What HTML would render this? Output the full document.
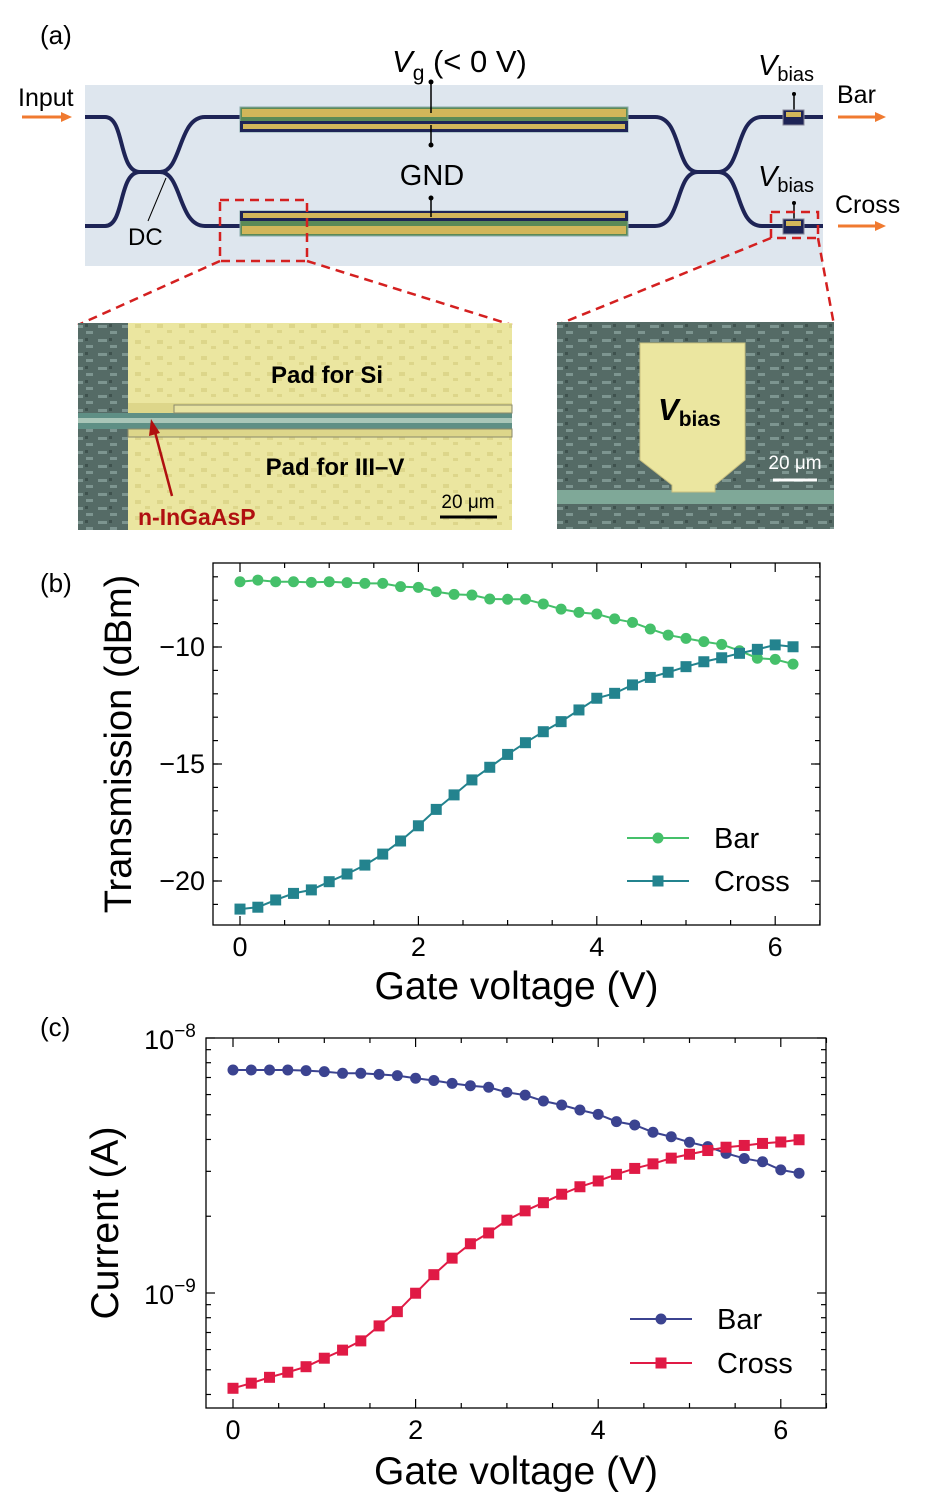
<!DOCTYPE html>
<html><head><meta charset="utf-8">
<style>
html,body{margin:0;padding:0;background:#fff;}
svg{display:block;font-family:"Liberation Sans",Arial,sans-serif;}
</style></head>
<body>
<svg id="fig" width="926" height="1500" viewBox="0 0 926 1500" xmlns="http://www.w3.org/2000/svg">
<defs>
<pattern id="chip" width="24" height="14" patternUnits="userSpaceOnUse">
<rect width="24" height="14" fill="#556b66"/>
<rect x="2" y="3" width="9" height="3" fill="#7d9590"/>
<rect x="14" y="9" width="7" height="3" fill="#7d9590"/>
<rect x="13" y="2" width="3" height="3" fill="#3f524e"/>
</pattern>
<pattern id="pad" width="22" height="16" patternUnits="userSpaceOnUse">
<rect width="22" height="16" fill="#ebe6a0"/>
<rect x="3" y="4" width="6" height="4" fill="#ddd68a"/>
<rect x="13" y="10" width="5" height="3" fill="#ddd68a"/>
</pattern>
</defs>

<!-- Panel (a) -->
<g>
<text x="40" y="44" font-size="26">(a)</text>
<rect x="85" y="85" width="738" height="181" fill="#dee6ee"/>
<g fill="none" stroke="#1e2456" stroke-width="4">
<path d="M85,117 H105 C125,117 118,172 140,172 H160 C182,172 178,117 205,117 H240"/>
<path d="M85,226 H105 C125,226 118,172 140,172 H160 C182,172 178,226 205,226 H240"/>
<path d="M628,117 H655 C682,117 675,172 698,172 H718 C742,172 735,117 762,117 H823"/>
<path d="M628,226 H655 C682,226 675,172 698,172 H718 C742,172 735,226 762,226 H823"/>
</g>
<g>
<rect x="240" y="107" width="388" height="25" fill="#5b8a57" stroke="#8aa"/>
<rect x="242" y="109" width="384" height="8" fill="#d2b65a"/>
<rect x="240" y="121" width="388" height="11" fill="#1e2456"/>
<rect x="243" y="124" width="382" height="5" fill="#d2b65a"/>
</g>
<g>
<rect x="240" y="211" width="388" height="25" fill="#5b8a57" stroke="#8aa"/>
<rect x="240" y="211" width="388" height="10" fill="#1e2456"/>
<rect x="243" y="213" width="382" height="5" fill="#d2b65a"/>
<rect x="242" y="226" width="384" height="8" fill="#d2b65a"/>
</g>
<g stroke="#000" stroke-width="1.5">
<line x1="431" y1="82" x2="431" y2="113"/><line x1="431" y1="125" x2="431" y2="145"/>
<line x1="431" y1="198" x2="431" y2="217"/>
<line x1="794" y1="94" x2="794" y2="113"/><line x1="794" y1="203" x2="794" y2="222"/>
<line x1="166" y1="178" x2="148" y2="221" stroke-width="1"/>
</g>
<g fill="#000"><circle cx="431" cy="82" r="2.5"/><circle cx="431" cy="145" r="2.5"/><circle cx="431" cy="198" r="2.5"/><circle cx="794" cy="94" r="2"/><circle cx="794" cy="203" r="2"/></g>
<rect x="783" y="110" width="21" height="15" fill="#1e2456" stroke="#889"/>
<rect x="786" y="112" width="15" height="5" fill="#d2b65a"/>
<rect x="783" y="219" width="21" height="15" fill="#1e2456" stroke="#889"/>
<rect x="786" y="221" width="15" height="5" fill="#d2b65a"/>
<text x="392" y="72" font-size="31"><tspan font-style="italic">V</tspan><tspan font-size="21" dy="8">g</tspan><tspan dy="-8"> (&lt; 0 V)</tspan></text>
<text x="432" y="185" font-size="29" text-anchor="middle">GND</text>
<text x="128" y="245" font-size="24">DC</text>
<text x="758" y="75" font-size="29"><tspan font-style="italic">V</tspan><tspan font-size="20" dy="6">bias</tspan></text>
<text x="758" y="186" font-size="29"><tspan font-style="italic">V</tspan><tspan font-size="20" dy="6">bias</tspan></text>
<text x="18" y="106" font-size="25">Input</text>
<text x="837" y="103" font-size="25">Bar</text>
<text x="835" y="213" font-size="25">Cross</text>
<g stroke="#f07a30" stroke-width="3" fill="#f07a30">
<line x1="22" y1="117" x2="62" y2="117"/><polygon points="72,117 61,112 61,122" stroke="none"/>
<line x1="838" y1="117" x2="876" y2="117"/><polygon points="886,117 875,112 875,122" stroke="none"/>
<line x1="838" y1="226" x2="876" y2="226"/><polygon points="886,226 875,221 875,231" stroke="none"/>
</g>
<g fill="none" stroke="#d42020" stroke-width="2.5" stroke-dasharray="9,6">
<rect x="220" y="200" width="87" height="61"/>
<rect x="771" y="212" width="47" height="26"/>
<line x1="220" y1="261" x2="78" y2="325"/><line x1="307" y1="261" x2="512" y2="325"/>
<line x1="771" y1="238" x2="557" y2="325"/><line x1="818" y1="238" x2="834" y2="325"/>
</g>
<g>
<rect x="78" y="323" width="434" height="207" fill="url(#pad)"/>
<rect x="78" y="323" width="50" height="207" fill="url(#chip)"/>
<rect x="78" y="413" width="434" height="16" fill="#5f8f85"/>
<rect x="128" y="403" width="384" height="10" fill="#ddd68a"/>
<rect x="174" y="405" width="338" height="8" fill="#e8e3a2" stroke="#8a8a6a"/>
<rect x="78" y="418" width="434" height="5" fill="#a9c6b8"/>
<rect x="128" y="429" width="384" height="8" fill="#ddd68a" stroke="#8a8a6a"/>
<text x="327" y="383" font-size="24" font-weight="bold" text-anchor="middle">Pad for Si</text>
<text x="335" y="475" font-size="24" font-weight="bold" text-anchor="middle">Pad for III–V</text>
<text x="138" y="525" font-size="23" font-weight="bold" fill="#b01010">n-InGaAsP</text>
<line x1="172" y1="496" x2="155" y2="432" stroke="#b01010" stroke-width="2.5"/>
<polygon points="151,419 149,436 160,433" fill="#b01010"/>
<text x="468" y="508" font-size="19" text-anchor="middle">20 μm</text>
<line x1="440" y1="517" x2="497" y2="517" stroke="#000" stroke-width="3"/>
</g>
<g>
<rect x="557" y="322" width="277" height="207" fill="url(#chip)"/>
<rect x="557" y="490" width="277" height="14" fill="#7fa898"/>
<polygon points="640,343 745,343 745,460 715,485 715,492 672,492 672,485 640,460" fill="#ebe6a0" stroke="#c8c080"/>
<text x="658" y="420" font-size="31" font-weight="bold" font-style="italic">V<tspan font-size="21" font-style="normal" dy="6">bias</tspan></text>
<text x="795" y="469" font-size="19" fill="#fff" text-anchor="middle">20 μm</text>
<line x1="773" y1="480" x2="817" y2="480" stroke="#fff" stroke-width="3"/>
</g>
</g>

<g id="chartB"></g>
<g id="chartC"></g>
</svg>

<script>
const NS="http://www.w3.org/2000/svg";
const voltages=[0,0.2,0.4,0.6,0.8,1.0,1.2,1.4,1.6,1.8,2.0,2.2,2.4,2.6,2.8,3.0,3.2,3.4,3.6,3.8,4.0,4.2,4.4,4.6,4.8,5.0,5.2,5.4,5.6,5.8,6.0,6.2];
const transBar=[-7.21,-7.14,-7.21,-7.21,-7.24,-7.21,-7.25,-7.28,-7.28,-7.42,-7.45,-7.64,-7.75,-7.78,-7.95,-7.96,-7.96,-8.16,-8.38,-8.52,-8.59,-8.80,-8.95,-9.23,-9.49,-9.63,-9.77,-9.89,-10.16,-10.48,-10.53,-10.73];
const transCross=[-21.20,-21.12,-20.81,-20.53,-20.38,-20.03,-19.70,-19.32,-18.85,-18.29,-17.64,-16.94,-16.32,-15.68,-15.14,-14.59,-14.09,-13.62,-13.19,-12.69,-12.19,-11.98,-11.62,-11.30,-11.08,-10.84,-10.63,-10.46,-10.27,-10.10,-9.91,-9.99];
const curBar=[7.49,7.49,7.49,7.49,7.45,7.38,7.27,7.27,7.20,7.12,6.95,6.81,6.64,6.50,6.41,6.12,5.97,5.66,5.46,5.22,5.02,4.70,4.56,4.27,4.10,3.90,3.75,3.53,3.37,3.27,3.04,2.95];
const curCross=[0.423,0.443,0.467,0.489,0.514,0.555,0.597,0.649,0.743,0.845,0.998,1.18,1.37,1.56,1.72,1.93,2.10,2.26,2.44,2.61,2.75,2.92,3.08,3.21,3.38,3.50,3.62,3.73,3.79,3.86,3.91,3.99];
const xTicksB=[0,2,4,6];
const yTicksB=[-10,-15,-20];
const xTicksC=[0,2,4,6];
const yTicksC=[1e-8,1e-9];

function mk(tag,attrs,parent){const e=document.createElementNS(NS,tag);for(const k in attrs)e.setAttribute(k,attrs[k]);parent.appendChild(e);return e;}

function drawChart(g,o){
  const {L,R,T,B,xs,ys,xTicks,yTicks,yFmt,minorY,series,ylabel,ylabelX,ylabelSize,xlabelY,legY}=o;
  const frame=mk('rect',{x:L,y:T,width:R-L,height:B-T,fill:'none',stroke:'#000','stroke-width':1.3},g);
  
  
  const tk=mk('g',{stroke:'#000','stroke-width':1.2},g);
  
  
  for(let v=0;v<=6.5;v+=0.5){const x=xs(v);const len=(Math.abs(v%2)<1e-9)?9:5;
    mk('line',{x1:x,x2:x,y1:B,y2:B-len},tk);mk('line',{x1:x,x2:x,y1:T,y2:T+len},tk);}
  minorY.forEach(v=>{const y=ys(v);mk('line',{x1:L,x2:L+5,y1:y,y2:y},tk);mk('line',{x1:R,x2:R-5,y1:y,y2:y},tk);});
  yTicks.forEach(v=>{const y=ys(v);mk('line',{x1:L,x2:L+9,y1:y,y2:y},tk);mk('line',{x1:R,x2:R-9,y1:y,y2:y},tk);});
  xTicks.forEach(v=>{const t=mk('text',{x:xs(v),y:B+31,'font-size':27,'text-anchor':'middle'},g);t.textContent=v;
    
    });
  yTicks.forEach(v=>{const t=yFmt(v,ys(v));
    
    });
  const xl=mk('text',{x:(L+R)/2,y:xlabelY,'font-size':39,'text-anchor':'middle'},g);xl.textContent='Gate voltage (V)';
  
  
  const yl=mk('text',{x:0,y:0,'font-size':ylabelSize,'text-anchor':'middle',transform:`translate(${ylabelX},${(T+B)/2}) rotate(-90)`},g);yl.textContent=ylabel;
  
  
  series.forEach((s,si)=>{
    const sg=mk('g',{},g);
    
    
    const pts=voltages.map((v,i)=>xs(v)+','+ys(s.data[i])).join(' ');
    mk('polyline',{points:pts,fill:'none',stroke:s.color,'stroke-width':2},sg);
    voltages.forEach((v,i)=>{let m;
      if(s.shape==='c')m=mk('circle',{cx:xs(v),cy:ys(s.data[i]),r:5.5,fill:s.color},sg);
      else m=mk('rect',{x:xs(v)-5.5,y:ys(s.data[i])-5.5,width:11,height:11,fill:s.color},sg);
      
      });
    const ly=legY[si];
    const lg=mk('g',{},g);
    
    
    mk('line',{x1:o.legX,x2:o.legX+62,y1:ly,y2:ly,stroke:s.color,'stroke-width':2},lg);
    if(s.shape==='c')mk('circle',{cx:o.legX+31,cy:ly,r:5.5,fill:s.color},lg);
    else mk('rect',{x:o.legX+25.5,y:ly-5.5,width:11,height:11,fill:s.color},lg);
    const t=mk('text',{x:o.legX+87,y:ly+10,'font-size':29},lg);t.textContent=s.name;
  });
}

(function(){
  const g=document.getElementById('chartB');
  const lab=mk('text',{x:40,y:592,'font-size':26},g);lab.textContent='(b)';
  
  
  const xs=v=>240+v*89.2, ys=v=>647+(-10-v)*23.4;
  const minor=[];for(let v=-7;v>=-21;v--)minor.push(v);
  drawChart(g,{L:213,R:820,T:563,B:925,xs,ys,xTicks:xTicksB,yTicks:yTicksB,minorY:minor,
    yFmt:(v,y)=>{const t=mk('text',{x:205,y:y+9,'font-size':27,'text-anchor':'end'},g);t.textContent='−'+Math.abs(v);return t;},
    series:[{name:'Bar',data:transBar,color:'#45c06a',shape:'c'},{name:'Cross',data:transCross,color:'#23838e',shape:'s'}],
    ylabel:'Transmission (dBm)',ylabelX:131,ylabelSize:38,xlabelY:999,legX:627,legY:[838,881]});
})();

(function(){
  const g=document.getElementById('chartC');
  const lab=mk('text',{x:40,y:1036,'font-size':26},g);lab.textContent='(c)';
  
  
  const xs=v=>233+v*91.3, ys=v=>1038+(-8-Math.log10(v))*255;
  const minor=[];[1e-10,1e-9].forEach(d=>{for(let k=2;k<=9;k++)minor.push(k*d);});
  const yFmt=(v,y)=>{const e=Math.round(Math.log10(v));const t=mk('text',{x:170,y:y+11,'font-size':27,'text-anchor':'middle'},g);
    t.textContent='10';const s=mk('tspan',{'font-size':19,dy:-12},t);s.textContent='−'+Math.abs(e);return t;};
  drawChart(g,{L:206,R:826,T:1038,B:1408,xs,ys,xTicks:xTicksC,yTicks:yTicksC,minorY:minor.filter(v=>ys(v)<1408&&ys(v)>1038),yFmt,
    series:[{name:'Bar',data:curBar.map(v=>v*1e-9),color:'#3b4390',shape:'c'},{name:'Cross',data:curCross.map(v=>v*1e-9),color:'#e01a45',shape:'s'}],
    ylabel:'Current (A)',ylabelX:118,ylabelSize:39,xlabelY:1484,legX:630,legY:[1319,1363]});
})();
</script>
</body></html>
